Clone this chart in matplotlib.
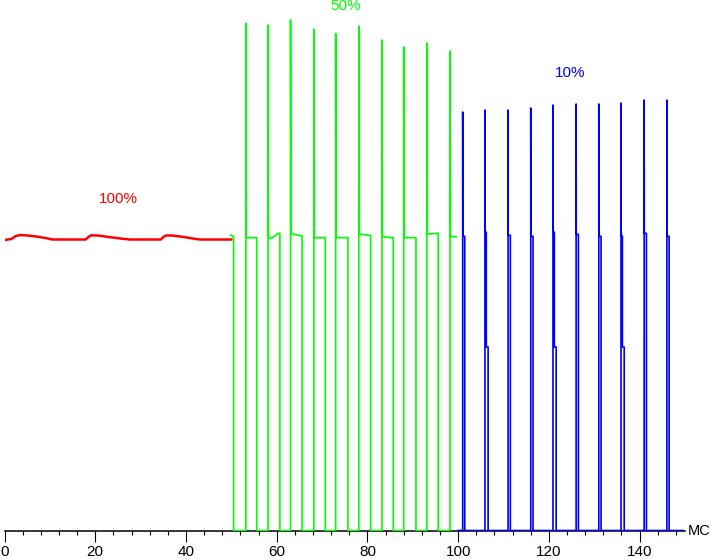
import numpy as np
import matplotlib
matplotlib.use('Agg')
import matplotlib.pyplot as plt
from matplotlib.ticker import MultipleLocator

plt.rcParams['font.family'] = ['Liberation Sans', 'DejaVu Sans']

# --- data (time in ms, brightness in arbitrary units) ---
# 100% brightness: nearly flat level with slow ripples
red_t = [0, 1.5, 2.5, 3.5, 5, 7, 9, 10.6, 17.9, 18.5, 19.1, 20.5, 23, 25.5, 27.6,
         34.5, 35.0, 35.6, 37, 39.5, 41.5, 43, 49.6, 50.0]
red_v = [291, 292, 295, 296, 295.5, 294.5, 293, 291.5, 291.5, 294, 295.7, 295.5, 294,
         292.5, 291.5, 291.5, 294, 295.5, 295.5, 294, 292.5, 291.5, 291.5, 291.5]

# 50% brightness: PWM, 5 ms period
green_start_t = [49.8, 50.5]
green_start_v = [296, 294.3]
green_rise = [53.2, 58.1, 63.05, 68.2, 73.0, 78.1, 83.2, 88.0, 93.1, 98.2]
green_peak = [507.7, 506, 511, 501.7, 497.3, 505, 491, 484, 488, 480]
green_fall = [55.6, 60.7, 65.6, 70.7, 75.7, 80.7, 85.7, 90.7, 95.6, None]
green_end = 99.6
# level shape on each pulse: (offset after rise, value)
green_levels = [
    [(0.1, 293.3)],
    [(0.05, 304), (0.15, 293), (0.8, 293), (1.8, 296), (2.1, 297.7)],
    [(0.1, 297.7), (1.0, 296.5), (2.5, 295)],
    [(0.1, 293.3)],
    [(0.05, 305), (0.15, 293.3)],
    [(0.1, 297), (2.4, 295.5)],
    [(0.1, 294.3), (2.4, 293.3)],
    [(0.05, 306), (0.15, 293.3)],
    [(0.1, 297), (2.4, 297.7)],
    [(0.1, 294.3)],
]

# 10% brightness: short pulses, 5 ms period
blue_start = 100.0
blue_end = 149.5
blue_rise = [101.0, 105.9, 111.0, 116.0, 120.9, 126.0, 131.0, 135.9, 141.0, 146.0]
blue_peak = [419, 421, 421, 423, 426, 427, 427, 428, 431, 431]
blue_level = [294.7, 298.7, 295.7, 294.7, 298.7, 296.7, 294.7, 294.7, 297.7, 294.7]
blue_bump = [None, 303, None, None, 302, None, None, 300, None, None]
blue_width = [0.45, 0.7, 0.5, 0.5, 0.7, 0.5, 0.5, 0.7, 0.5, 0.5]
blue_mid = [None, 184, None, None, 184, None, None, 184, None, None]

xticks = [0, 20, 40, 60, 80, 100, 120, 140]


def green_path():
    t = list(green_start_t)
    v = list(green_start_v)
    t.append(green_start_t[-1]); v.append(0.5)
    for i, r in enumerate(green_rise):
        t += [r, r]; v += [0.5, green_peak[i]]
        for dt, lv in green_levels[i]:
            t.append(r + dt); v.append(lv)
        f = green_fall[i]
        if f is None:
            t.append(green_end); v.append(v[-1])
        else:
            t += [f, f]; v += [v[-1], 0.5]
    return t, v


def blue_path():
    t = [blue_start]; v = [0.5]
    for i, r in enumerate(blue_rise):
        t += [r, r]; v += [0.5, blue_peak[i]]
        if blue_bump[i] is not None:
            t += [r + 0.03, r + 0.1]; v += [blue_bump[i], blue_level[i]]
        else:
            t.append(r + 0.03); v.append(blue_level[i])
        if blue_mid[i] is not None:
            t += [r + 0.3, r + 0.3, r + blue_width[i], r + blue_width[i]]
            v += [blue_level[i], blue_mid[i], blue_mid[i], 0.5]
        else:
            t += [r + blue_width[i], r + blue_width[i]]
            v += [blue_level[i], 0.5]
    t.append(blue_end); v.append(0.5)
    return t, v


fig = plt.figure(figsize=(7.11, 5.59), dpi=100)
ax = fig.add_axes([4.5 / 711, 28 / 559, 680.5 / 711, 531 / 559])
ax.set_xlim(0, 150)
ax.set_ylim(0, 531)

ax.plot(red_t, red_v, color='#ff0000', lw=1.8, zorder=3)
gt, gv = green_path()
ax.plot(gt, gv, color='#00ff00', lw=1.2, zorder=3)
bt, bv = blue_path()
ax.plot(bt, bv, color='#0000ff', lw=1.2, zorder=3)
ax.plot([blue_start, blue_end], [0.5, 0.5], color='#0000ff', lw=2.0, zorder=3)

ax.text(25.2, 332, '100%', color='#ff0000', fontsize=11, ha='center', va='center')
ax.text(75.2, 525, '50%', color='#00ff00', fontsize=11, ha='center', va='center', clip_on=False)
ax.text(124.6, 458, '10%', color='#0000ff', fontsize=11, ha='center', va='center')
ax.text(150.7, 0, 'МС', fontsize=10.5, ha='left', va='center', clip_on=False)

for s in ['top', 'right', 'left']:
    ax.spines[s].set_visible(False)
ax.spines['bottom'].set_linewidth(1.1)
ax.set_yticks([])
ax.set_xticks(xticks)
ax.xaxis.set_minor_locator(MultipleLocator(4))
ax.tick_params(axis='x', which='major', length=8, width=0.8, pad=2.2, labelsize=11)
ax.tick_params(axis='x', which='minor', length=3, width=0.8)

fig.savefig('out.png', dpi=100)
